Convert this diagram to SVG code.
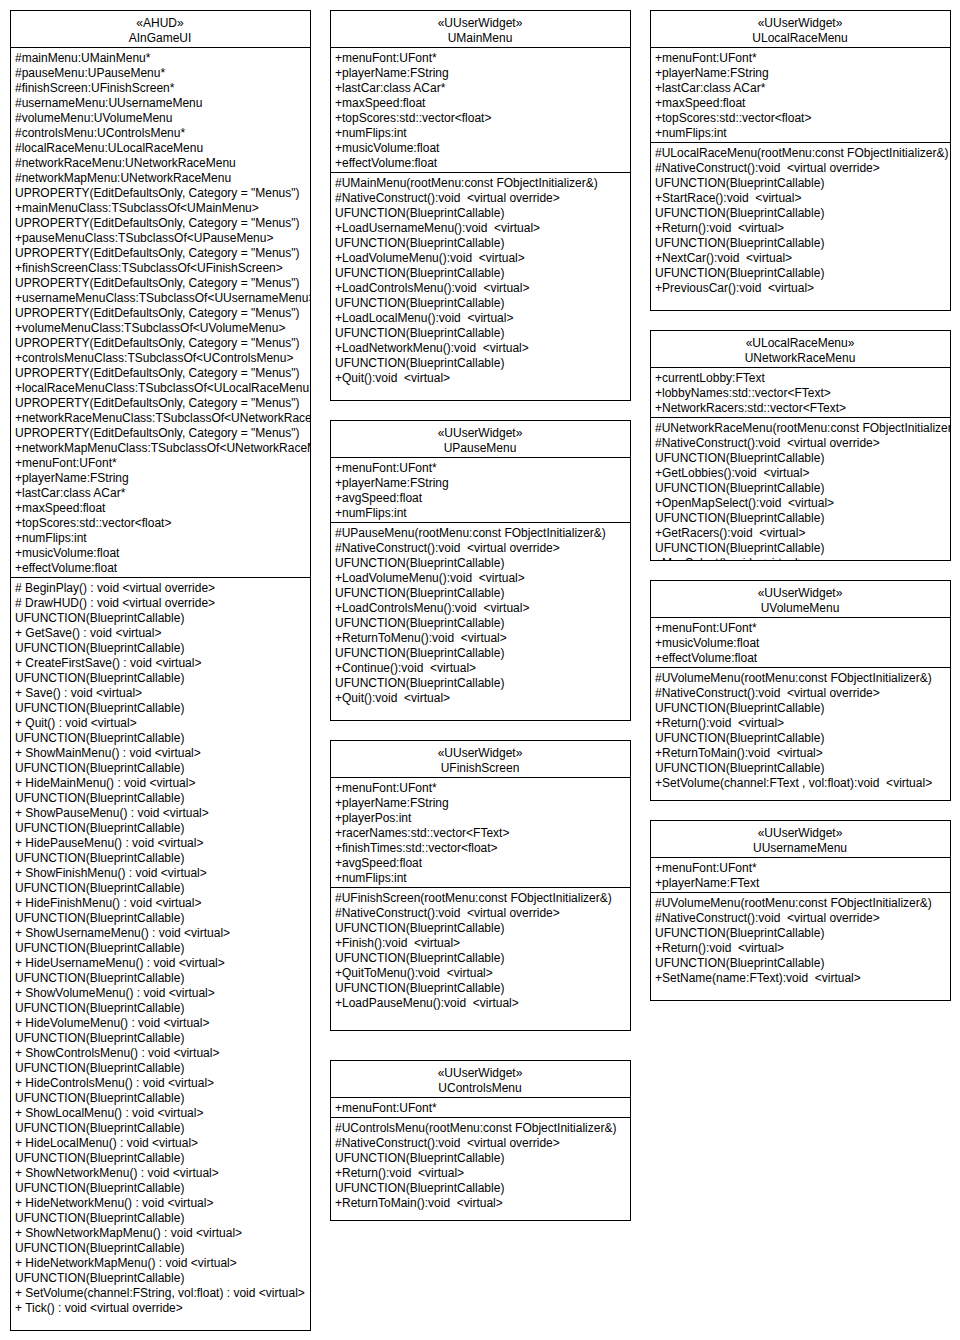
<svg xmlns="http://www.w3.org/2000/svg" width="960" height="1340" viewBox="0 0 960 1340">
<style>
  text { font-family: "Liberation Sans", Arial, Helvetica, sans-serif; font-size: 12px; fill: #000; white-space: pre; }
  .c { text-anchor: middle; }
  .box { fill: #fff; stroke: #000; stroke-width: 1; }
  .sep { stroke: #000; stroke-width: 1; fill: none; }
</style>
<defs>
  <clipPath id="cp1"><rect x="10" y="10" width="300" height="1320"/></clipPath>
  <clipPath id="cp2"><rect x="330" y="10" width="300" height="390"/></clipPath>
  <clipPath id="cp3"><rect x="330" y="420" width="300" height="300"/></clipPath>
  <clipPath id="cp4"><rect x="330" y="740" width="300" height="290"/></clipPath>
  <clipPath id="cp5"><rect x="330" y="1060" width="300" height="160"/></clipPath>
  <clipPath id="cp6"><rect x="650" y="10" width="300" height="300"/></clipPath>
  <clipPath id="cp7"><rect x="650" y="330" width="300" height="230"/></clipPath>
  <clipPath id="cp8"><rect x="650" y="580" width="300" height="220"/></clipPath>
  <clipPath id="cp9"><rect x="650" y="820" width="300" height="180"/></clipPath>
</defs>
<rect width="960" height="1340" fill="#fff"/>
<g id="connectors"/>

<g id="AInGameUI">
  <rect class="box" x="10.5" y="10.5" width="300" height="1320"/>
  <line class="sep" x1="10.5" y1="47.5" x2="310.5" y2="47.5"/>
  <line class="sep" x1="10.5" y1="577.5" x2="310.5" y2="577.5"/>
  <text class="c" x="160" y="27">«AHUD»</text>
  <text class="c" x="160" y="42">AInGameUI</text>
  <g clip-path="url(#cp1)"><g transform="translate(1,1)">
  <text x="14" y="61"><tspan x="14" dy="0">#mainMenu:UMainMenu*</tspan><tspan x="14" dy="15">#pauseMenu:UPauseMenu*</tspan><tspan x="14" dy="15">#finishScreen:UFinishScreen*</tspan><tspan x="14" dy="15">#usernameMenu:UUsernameMenu</tspan><tspan x="14" dy="15">#volumeMenu:UVolumeMenu</tspan><tspan x="14" dy="15">#controlsMenu:UControlsMenu*</tspan><tspan x="14" dy="15">#localRaceMenu:ULocalRaceMenu</tspan><tspan x="14" dy="15">#networkRaceMenu:UNetworkRaceMenu</tspan><tspan x="14" dy="15">#networkMapMenu:UNetworkRaceMenu</tspan><tspan x="14" dy="15">UPROPERTY(EditDefaultsOnly, Category = "Menus")</tspan><tspan x="14" dy="15">+mainMenuClass:TSubclassOf&lt;UMainMenu&gt;</tspan><tspan x="14" dy="15">UPROPERTY(EditDefaultsOnly, Category = "Menus")</tspan><tspan x="14" dy="15">+pauseMenuClass:TSubclassOf&lt;UPauseMenu&gt;</tspan><tspan x="14" dy="15">UPROPERTY(EditDefaultsOnly, Category = "Menus")</tspan><tspan x="14" dy="15">+finishScreenClass:TSubclassOf&lt;UFinishScreen&gt;</tspan><tspan x="14" dy="15">UPROPERTY(EditDefaultsOnly, Category = "Menus")</tspan><tspan x="14" dy="15">+usernameMenuClass:TSubclassOf&lt;UUsernameMenu&gt;</tspan><tspan x="14" dy="15">UPROPERTY(EditDefaultsOnly, Category = "Menus")</tspan><tspan x="14" dy="15">+volumeMenuClass:TSubclassOf&lt;UVolumeMenu&gt;</tspan><tspan x="14" dy="15">UPROPERTY(EditDefaultsOnly, Category = "Menus")</tspan><tspan x="14" dy="15">+controlsMenuClass:TSubclassOf&lt;UControlsMenu&gt;</tspan><tspan x="14" dy="15">UPROPERTY(EditDefaultsOnly, Category = "Menus")</tspan><tspan x="14" dy="15">+localRaceMenuClass:TSubclassOf&lt;ULocalRaceMenu&gt;</tspan><tspan x="14" dy="15">UPROPERTY(EditDefaultsOnly, Category = "Menus")</tspan><tspan x="14" dy="15">+networkRaceMenuClass:TSubclassOf&lt;UNetworkRaceMenu&gt;</tspan><tspan x="14" dy="15">UPROPERTY(EditDefaultsOnly, Category = "Menus")</tspan><tspan x="14" dy="15">+networkMapMenuClass:TSubclassOf&lt;UNetworkRaceMenu&gt;</tspan><tspan x="14" dy="15">+menuFont:UFont*</tspan><tspan x="14" dy="15">+playerName:FString</tspan><tspan x="14" dy="15">+lastCar:class ACar*</tspan><tspan x="14" dy="15">+maxSpeed:float</tspan><tspan x="14" dy="15">+topScores:std::vector&lt;float&gt;</tspan><tspan x="14" dy="15">+numFlips:int</tspan><tspan x="14" dy="15">+musicVolume:float</tspan><tspan x="14" dy="15">+effectVolume:float</tspan></text>
  <text x="14" y="591"><tspan x="14" dy="0"># BeginPlay() : void &lt;virtual override&gt;</tspan><tspan x="14" dy="15"># DrawHUD() : void &lt;virtual override&gt;</tspan><tspan x="14" dy="15">UFUNCTION(BlueprintCallable)</tspan><tspan x="14" dy="15">+ GetSave() : void &lt;virtual&gt;</tspan><tspan x="14" dy="15">UFUNCTION(BlueprintCallable)</tspan><tspan x="14" dy="15">+ CreateFirstSave() : void &lt;virtual&gt;</tspan><tspan x="14" dy="15">UFUNCTION(BlueprintCallable)</tspan><tspan x="14" dy="15">+ Save() : void &lt;virtual&gt;</tspan><tspan x="14" dy="15">UFUNCTION(BlueprintCallable)</tspan><tspan x="14" dy="15">+ Quit() : void &lt;virtual&gt;</tspan><tspan x="14" dy="15">UFUNCTION(BlueprintCallable)</tspan><tspan x="14" dy="15">+ ShowMainMenu() : void &lt;virtual&gt;</tspan><tspan x="14" dy="15">UFUNCTION(BlueprintCallable)</tspan><tspan x="14" dy="15">+ HideMainMenu() : void &lt;virtual&gt;</tspan><tspan x="14" dy="15">UFUNCTION(BlueprintCallable)</tspan><tspan x="14" dy="15">+ ShowPauseMenu() : void &lt;virtual&gt;</tspan><tspan x="14" dy="15">UFUNCTION(BlueprintCallable)</tspan><tspan x="14" dy="15">+ HidePauseMenu() : void &lt;virtual&gt;</tspan><tspan x="14" dy="15">UFUNCTION(BlueprintCallable)</tspan><tspan x="14" dy="15">+ ShowFinishMenu() : void &lt;virtual&gt;</tspan><tspan x="14" dy="15">UFUNCTION(BlueprintCallable)</tspan><tspan x="14" dy="15">+ HideFinishMenu() : void &lt;virtual&gt;</tspan><tspan x="14" dy="15">UFUNCTION(BlueprintCallable)</tspan><tspan x="14" dy="15">+ ShowUsernameMenu() : void &lt;virtual&gt;</tspan><tspan x="14" dy="15">UFUNCTION(BlueprintCallable)</tspan><tspan x="14" dy="15">+ HideUsernameMenu() : void &lt;virtual&gt;</tspan><tspan x="14" dy="15">UFUNCTION(BlueprintCallable)</tspan><tspan x="14" dy="15">+ ShowVolumeMenu() : void &lt;virtual&gt;</tspan><tspan x="14" dy="15">UFUNCTION(BlueprintCallable)</tspan><tspan x="14" dy="15">+ HideVolumeMenu() : void &lt;virtual&gt;</tspan><tspan x="14" dy="15">UFUNCTION(BlueprintCallable)</tspan><tspan x="14" dy="15">+ ShowControlsMenu() : void &lt;virtual&gt;</tspan><tspan x="14" dy="15">UFUNCTION(BlueprintCallable)</tspan><tspan x="14" dy="15">+ HideControlsMenu() : void &lt;virtual&gt;</tspan><tspan x="14" dy="15">UFUNCTION(BlueprintCallable)</tspan><tspan x="14" dy="15">+ ShowLocalMenu() : void &lt;virtual&gt;</tspan><tspan x="14" dy="15">UFUNCTION(BlueprintCallable)</tspan><tspan x="14" dy="15">+ HideLocalMenu() : void &lt;virtual&gt;</tspan><tspan x="14" dy="15">UFUNCTION(BlueprintCallable)</tspan><tspan x="14" dy="15">+ ShowNetworkMenu() : void &lt;virtual&gt;</tspan><tspan x="14" dy="15">UFUNCTION(BlueprintCallable)</tspan><tspan x="14" dy="15">+ HideNetworkMenu() : void &lt;virtual&gt;</tspan><tspan x="14" dy="15">UFUNCTION(BlueprintCallable)</tspan><tspan x="14" dy="15">+ ShowNetworkMapMenu() : void &lt;virtual&gt;</tspan><tspan x="14" dy="15">UFUNCTION(BlueprintCallable)</tspan><tspan x="14" dy="15">+ HideNetworkMapMenu() : void &lt;virtual&gt;</tspan><tspan x="14" dy="15">UFUNCTION(BlueprintCallable)</tspan><tspan x="14" dy="15">+ SetVolume(channel:FString, vol:float) : void &lt;virtual&gt;</tspan><tspan x="14" dy="15">+ Tick() : void &lt;virtual override&gt;</tspan></text>
  </g></g>
</g>

<g id="UMainMenu">
  <rect class="box" x="330.5" y="10.5" width="300" height="390"/>
  <line class="sep" x1="330.5" y1="47.5" x2="630.5" y2="47.5"/>
  <line class="sep" x1="330.5" y1="172.5" x2="630.5" y2="172.5"/>
  <text class="c" x="480" y="27">«UUserWidget»</text>
  <text class="c" x="480" y="42">UMainMenu</text>
  <g clip-path="url(#cp2)"><g transform="translate(1,1)">
  <text x="334" y="61"><tspan x="334" dy="0">+menuFont:UFont*</tspan><tspan x="334" dy="15">+playerName:FString</tspan><tspan x="334" dy="15">+lastCar:class ACar*</tspan><tspan x="334" dy="15">+maxSpeed:float</tspan><tspan x="334" dy="15">+topScores:std::vector&lt;float&gt;</tspan><tspan x="334" dy="15">+numFlips:int</tspan><tspan x="334" dy="15">+musicVolume:float</tspan><tspan x="334" dy="15">+effectVolume:float</tspan></text>
  <text x="334" y="186"><tspan x="334" dy="0">#UMainMenu(rootMenu:const FObjectInitializer&amp;)</tspan><tspan x="334" dy="15">#NativeConstruct():void  &lt;virtual override&gt;</tspan><tspan x="334" dy="15">UFUNCTION(BlueprintCallable)</tspan><tspan x="334" dy="15">+LoadUsernameMenu():void  &lt;virtual&gt;</tspan><tspan x="334" dy="15">UFUNCTION(BlueprintCallable)</tspan><tspan x="334" dy="15">+LoadVolumeMenu():void  &lt;virtual&gt;</tspan><tspan x="334" dy="15">UFUNCTION(BlueprintCallable)</tspan><tspan x="334" dy="15">+LoadControlsMenu():void  &lt;virtual&gt;</tspan><tspan x="334" dy="15">UFUNCTION(BlueprintCallable)</tspan><tspan x="334" dy="15">+LoadLocalMenu():void  &lt;virtual&gt;</tspan><tspan x="334" dy="15">UFUNCTION(BlueprintCallable)</tspan><tspan x="334" dy="15">+LoadNetworkMenu():void  &lt;virtual&gt;</tspan><tspan x="334" dy="15">UFUNCTION(BlueprintCallable)</tspan><tspan x="334" dy="15">+Quit():void  &lt;virtual&gt;</tspan></text>
  </g></g>
</g>

<g id="UPauseMenu">
  <rect class="box" x="330.5" y="420.5" width="300" height="300"/>
  <line class="sep" x1="330.5" y1="457.5" x2="630.5" y2="457.5"/>
  <line class="sep" x1="330.5" y1="522.5" x2="630.5" y2="522.5"/>
  <text class="c" x="480" y="437">«UUserWidget»</text>
  <text class="c" x="480" y="452">UPauseMenu</text>
  <g clip-path="url(#cp3)"><g transform="translate(1,1)">
  <text x="334" y="471"><tspan x="334" dy="0">+menuFont:UFont*</tspan><tspan x="334" dy="15">+playerName:FString</tspan><tspan x="334" dy="15">+avgSpeed:float</tspan><tspan x="334" dy="15">+numFlips:int</tspan></text>
  <text x="334" y="536"><tspan x="334" dy="0">#UPauseMenu(rootMenu:const FObjectInitializer&amp;)</tspan><tspan x="334" dy="15">#NativeConstruct():void  &lt;virtual override&gt;</tspan><tspan x="334" dy="15">UFUNCTION(BlueprintCallable)</tspan><tspan x="334" dy="15">+LoadVolumeMenu():void  &lt;virtual&gt;</tspan><tspan x="334" dy="15">UFUNCTION(BlueprintCallable)</tspan><tspan x="334" dy="15">+LoadControlsMenu():void  &lt;virtual&gt;</tspan><tspan x="334" dy="15">UFUNCTION(BlueprintCallable)</tspan><tspan x="334" dy="15">+ReturnToMenu():void  &lt;virtual&gt;</tspan><tspan x="334" dy="15">UFUNCTION(BlueprintCallable)</tspan><tspan x="334" dy="15">+Continue():void  &lt;virtual&gt;</tspan><tspan x="334" dy="15">UFUNCTION(BlueprintCallable)</tspan><tspan x="334" dy="15">+Quit():void  &lt;virtual&gt;</tspan></text>
  </g></g>
</g>

<g id="UFinishScreen">
  <rect class="box" x="330.5" y="740.5" width="300" height="290"/>
  <line class="sep" x1="330.5" y1="777.5" x2="630.5" y2="777.5"/>
  <line class="sep" x1="330.5" y1="887.5" x2="630.5" y2="887.5"/>
  <text class="c" x="480" y="757">«UUserWidget»</text>
  <text class="c" x="480" y="772">UFinishScreen</text>
  <g clip-path="url(#cp4)"><g transform="translate(1,1)">
  <text x="334" y="791"><tspan x="334" dy="0">+menuFont:UFont*</tspan><tspan x="334" dy="15">+playerName:FString</tspan><tspan x="334" dy="15">+playerPos:int</tspan><tspan x="334" dy="15">+racerNames:std::vector&lt;FText&gt;</tspan><tspan x="334" dy="15">+finishTimes:std::vector&lt;float&gt;</tspan><tspan x="334" dy="15">+avgSpeed:float</tspan><tspan x="334" dy="15">+numFlips:int</tspan></text>
  <text x="334" y="901"><tspan x="334" dy="0">#UFinishScreen(rootMenu:const FObjectInitializer&amp;)</tspan><tspan x="334" dy="15">#NativeConstruct():void  &lt;virtual override&gt;</tspan><tspan x="334" dy="15">UFUNCTION(BlueprintCallable)</tspan><tspan x="334" dy="15">+Finish():void  &lt;virtual&gt;</tspan><tspan x="334" dy="15">UFUNCTION(BlueprintCallable)</tspan><tspan x="334" dy="15">+QuitToMenu():void  &lt;virtual&gt;</tspan><tspan x="334" dy="15">UFUNCTION(BlueprintCallable)</tspan><tspan x="334" dy="15">+LoadPauseMenu():void  &lt;virtual&gt;</tspan></text>
  </g></g>
</g>

<g id="UControlsMenu">
  <rect class="box" x="330.5" y="1060.5" width="300" height="160"/>
  <line class="sep" x1="330.5" y1="1097.5" x2="630.5" y2="1097.5"/>
  <line class="sep" x1="330.5" y1="1117.5" x2="630.5" y2="1117.5"/>
  <text class="c" x="480" y="1077">«UUserWidget»</text>
  <text class="c" x="480" y="1092">UControlsMenu</text>
  <g clip-path="url(#cp5)"><g transform="translate(1,1)">
  <text x="334" y="1111">+menuFont:UFont*</text>
  <text x="334" y="1131"><tspan x="334" dy="0">#UControlsMenu(rootMenu:const FObjectInitializer&amp;)</tspan><tspan x="334" dy="15">#NativeConstruct():void  &lt;virtual override&gt;</tspan><tspan x="334" dy="15">UFUNCTION(BlueprintCallable)</tspan><tspan x="334" dy="15">+Return():void  &lt;virtual&gt;</tspan><tspan x="334" dy="15">UFUNCTION(BlueprintCallable)</tspan><tspan x="334" dy="15">+ReturnToMain():void  &lt;virtual&gt;</tspan></text>
  </g></g>
</g>

<g id="ULocalRaceMenu">
  <rect class="box" x="650.5" y="10.5" width="300" height="300"/>
  <line class="sep" x1="650.5" y1="47.5" x2="950.5" y2="47.5"/>
  <line class="sep" x1="650.5" y1="142.5" x2="950.5" y2="142.5"/>
  <text class="c" x="800" y="27">«UUserWidget»</text>
  <text class="c" x="800" y="42">ULocalRaceMenu</text>
  <g clip-path="url(#cp6)"><g transform="translate(1,1)">
  <text x="654" y="61"><tspan x="654" dy="0">+menuFont:UFont*</tspan><tspan x="654" dy="15">+playerName:FString</tspan><tspan x="654" dy="15">+lastCar:class ACar*</tspan><tspan x="654" dy="15">+maxSpeed:float</tspan><tspan x="654" dy="15">+topScores:std::vector&lt;float&gt;</tspan><tspan x="654" dy="15">+numFlips:int</tspan></text>
  <text x="654" y="156"><tspan x="654" dy="0">#ULocalRaceMenu(rootMenu:const FObjectInitializer&amp;)</tspan><tspan x="654" dy="15">#NativeConstruct():void  &lt;virtual override&gt;</tspan><tspan x="654" dy="15">UFUNCTION(BlueprintCallable)</tspan><tspan x="654" dy="15">+StartRace():void  &lt;virtual&gt;</tspan><tspan x="654" dy="15">UFUNCTION(BlueprintCallable)</tspan><tspan x="654" dy="15">+Return():void  &lt;virtual&gt;</tspan><tspan x="654" dy="15">UFUNCTION(BlueprintCallable)</tspan><tspan x="654" dy="15">+NextCar():void  &lt;virtual&gt;</tspan><tspan x="654" dy="15">UFUNCTION(BlueprintCallable)</tspan><tspan x="654" dy="15">+PreviousCar():void  &lt;virtual&gt;</tspan></text>
  </g></g>
</g>

<g id="UNetworkRaceMenu">
  <rect class="box" x="650.5" y="330.5" width="300" height="230"/>
  <line class="sep" x1="650.5" y1="367.5" x2="950.5" y2="367.5"/>
  <line class="sep" x1="650.5" y1="417.5" x2="950.5" y2="417.5"/>
  <text class="c" x="800" y="347">«ULocalRaceMenu»</text>
  <text class="c" x="800" y="362">UNetworkRaceMenu</text>
  <g clip-path="url(#cp7)"><g transform="translate(1,1)">
  <text x="654" y="381"><tspan x="654" dy="0">+currentLobby:FText</tspan><tspan x="654" dy="15">+lobbyNames:std::vector&lt;FText&gt;</tspan><tspan x="654" dy="15">+NetworkRacers:std::vector&lt;FText&gt;</tspan></text>
  <text x="654" y="431"><tspan x="654" dy="0">#UNetworkRaceMenu(rootMenu:const FObjectInitializer&amp;)</tspan><tspan x="654" dy="15">#NativeConstruct():void  &lt;virtual override&gt;</tspan><tspan x="654" dy="15">UFUNCTION(BlueprintCallable)</tspan><tspan x="654" dy="15">+GetLobbies():void  &lt;virtual&gt;</tspan><tspan x="654" dy="15">UFUNCTION(BlueprintCallable)</tspan><tspan x="654" dy="15">+OpenMapSelect():void  &lt;virtual&gt;</tspan><tspan x="654" dy="15">UFUNCTION(BlueprintCallable)</tspan><tspan x="654" dy="15">+GetRacers():void  &lt;virtual&gt;</tspan><tspan x="654" dy="15">UFUNCTION(BlueprintCallable)</tspan><tspan x="654" dy="15">+MapSelect():void  &lt;virtual&gt;</tspan></text>
  </g></g>
</g>

<g id="UVolumeMenu">
  <rect class="box" x="650.5" y="580.5" width="300" height="220"/>
  <line class="sep" x1="650.5" y1="617.5" x2="950.5" y2="617.5"/>
  <line class="sep" x1="650.5" y1="667.5" x2="950.5" y2="667.5"/>
  <text class="c" x="800" y="597">«UUserWidget»</text>
  <text class="c" x="800" y="612">UVolumeMenu</text>
  <g clip-path="url(#cp8)"><g transform="translate(1,1)">
  <text x="654" y="631"><tspan x="654" dy="0">+menuFont:UFont*</tspan><tspan x="654" dy="15">+musicVolume:float</tspan><tspan x="654" dy="15">+effectVolume:float</tspan></text>
  <text x="654" y="681"><tspan x="654" dy="0">#UVolumeMenu(rootMenu:const FObjectInitializer&amp;)</tspan><tspan x="654" dy="15">#NativeConstruct():void  &lt;virtual override&gt;</tspan><tspan x="654" dy="15">UFUNCTION(BlueprintCallable)</tspan><tspan x="654" dy="15">+Return():void  &lt;virtual&gt;</tspan><tspan x="654" dy="15">UFUNCTION(BlueprintCallable)</tspan><tspan x="654" dy="15">+ReturnToMain():void  &lt;virtual&gt;</tspan><tspan x="654" dy="15">UFUNCTION(BlueprintCallable)</tspan><tspan x="654" dy="15">+SetVolume(channel:FText , vol:float):void  &lt;virtual&gt;</tspan></text>
  </g></g>
</g>

<g id="UUsernameMenu">
  <rect class="box" x="650.5" y="820.5" width="300" height="180"/>
  <line class="sep" x1="650.5" y1="857.5" x2="950.5" y2="857.5"/>
  <line class="sep" x1="650.5" y1="892.5" x2="950.5" y2="892.5"/>
  <text class="c" x="800" y="837">«UUserWidget»</text>
  <text class="c" x="800" y="852">UUsernameMenu</text>
  <g clip-path="url(#cp9)"><g transform="translate(1,1)">
  <text x="654" y="871"><tspan x="654" dy="0">+menuFont:UFont*</tspan><tspan x="654" dy="15">+playerName:FText</tspan></text>
  <text x="654" y="906"><tspan x="654" dy="0">#UVolumeMenu(rootMenu:const FObjectInitializer&amp;)</tspan><tspan x="654" dy="15">#NativeConstruct():void  &lt;virtual override&gt;</tspan><tspan x="654" dy="15">UFUNCTION(BlueprintCallable)</tspan><tspan x="654" dy="15">+Return():void  &lt;virtual&gt;</tspan><tspan x="654" dy="15">UFUNCTION(BlueprintCallable)</tspan><tspan x="654" dy="15">+SetName(name:FText):void  &lt;virtual&gt;</tspan></text>
  </g></g>
</g>
</svg>
